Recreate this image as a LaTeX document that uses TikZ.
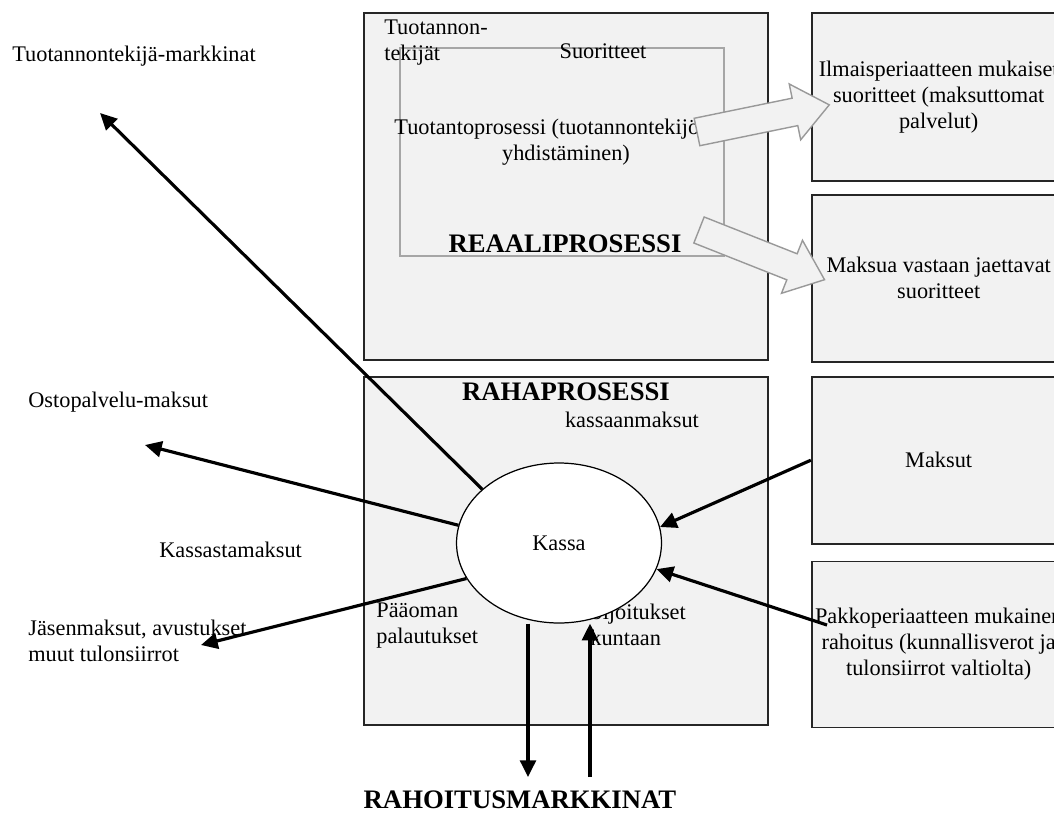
\documentclass[tikz,border=0pt]{standalone}
\usepackage{fontspec}
\setmainfont{Liberation Serif}
\usetikzlibrary{arrows.meta, positioning, shapes.geometric}

\begin{document}
\begin{tikzpicture}[
    x=0.02cm, y=-0.02cm,
    txt/.style={font=\fontsize{12.7}{14.8}\selectfont, inner sep=0pt},
    head/.style={font=\fontsize{15.2}{18}\selectfont\bfseries, inner sep=0pt},
    area/.style={rectangle, draw=black!85, line width=1pt, fill=black!5, inner sep=0pt},
    sidebox/.style={area, minimum width=5.08cm, align=center, font=\fontsize{12.7}{14.8}\selectfont},
    procframe/.style={rectangle, draw=black!35, line width=0.8pt, inner sep=0pt},
    cashnode/.style={ellipse, draw, line width=0.7pt, fill=white, minimum width=4.1cm, minimum height=3.2cm, inner sep=0pt, font=\fontsize{12.7}{14.8}\selectfont},
    flow/.style={line width=1.8pt, -{Triangle[length=9.5pt,width=9pt]}},
    bigarrow/.style={draw=black!40, line width=0.8pt, fill=black!5, line join=miter}
]
    \path[use as bounding box, clip] (0,0) rectangle (1054,814);

    % process areas
    \node[area, minimum width=8.08cm, minimum height=6.94cm] (reaali) at (566,186.5) {};
    \node[area, minimum width=8.08cm, minimum height=6.96cm, below=0.3cm of reaali] (raha) {};

    % boxes on the right
    \node[sidebox, minimum height=3.36cm, below right=0cm and 0.84cm of reaali.north east] (ilmais) {Ilmaisperiaatteen mukaiset\\suoritteet (maksuttomat\\palvelut)};
    \node[sidebox, minimum height=3.34cm, below=0.24cm of ilmais] (maksua) {Maksua vastaan jaettavat\\suoritteet};
    \node[sidebox, minimum height=3.34cm, below right=0cm and 0.84cm of raha.north east] (maksut) {Maksut};
    \node[sidebox, minimum height=3.32cm, below=0.32cm of maksut] (pakko) {Pakkoperiaatteen mukainen\\rahoitus (kunnallisverot ja\\tulonsiirrot valtiolta)};

    \node[procframe, minimum width=6.48cm, minimum height=4.16cm] (tuotanto) at (562,152) {};

    % labels
    \node[txt, anchor=west, align=left] (tekijat) at (384,43) {Tuotannon-\\tekijät};
    \node[txt] (suoritteet) at (603,51) {Suoritteet};
    \node[txt, align=center] (prosessi) at (566,142) {Tuotantoprosessi (tuotannontekijöiden\\yhdistäminen)};
    \node[head] (reaaliotsikko) at (565,244) {REAALIPROSESSI};
    \node[head] (rahaotsikko) at (566,392) {RAHAPROSESSI};
    \node[txt] (kassaan) at (632,420) {kassaanmaksut};
    \node[txt, anchor=base west] (tmarkkinat) at (12,62) {Tuotannontekijä-markkinat};
    \node[txt, anchor=base west] (ostopalvelu) at (28,407) {Ostopalvelu-maksut};
    \node[txt, anchor=base west] (kassasta) at (159,557) {Kassastamaksut};
    \node[txt, anchor=west, align=left] (jasen) at (28,641) {Jäsenmaksut, avustukset\\muut tulonsiirrot};
    \node[txt, anchor=west, align=left] (paaoma) at (376,626) {Pääoman\\palautukset};
    \node[txt, anchor=west, align=left] (sijoitus) at (590,625) {Sijoitukset\\kuntaan};
    \node[head, anchor=base] (rmarkkinat) at (520,808) {RAHOITUSMARKKINAT};

    \node[cashnode] (kassa) at (559,543) {Kassa};

    % free ends of the money flows
    \coordinate (tmTip) at (100,113);
    \coordinate (opTip) at (145,445);
    \coordinate (jmTip) at (201,645);
    \coordinate (rmDown) at (528,777);
    \coordinate (rmUp) at (590,777);
    \coordinate (pakkoStart) at (827,625);

    \draw[flow] (kassa.145) -- (tmTip);
    \draw[flow] (kassa.170) -- (opTip);
    \draw[flow] (kassa.201) -- (jmTip);
    \draw[flow] (kassa.south -| rmDown) -- (rmDown);
    \draw[flow] (rmUp) -- (kassa.south -| rmUp);
    \draw[flow] (maksut.west) -- (kassa.9);
    \draw[flow] (pakkoStart) -- (kassa.-15);

    % hollow arrows out of the real process
    \draw[bigarrow, shift={(697,132)}, rotate=11.6] (0,-14) -- (100,-14) -- (100,-28.5) -- (135,0) -- (100,28.5) -- (100,14) -- (0,14) -- cycle;
    \draw[bigarrow, shift={(699,230)}, rotate=-21.6] (0,-14) -- (100,-14) -- (100,-28.5) -- (135,0) -- (100,28.5) -- (100,14) -- (0,14) -- cycle;
\end{tikzpicture}
\end{document}
